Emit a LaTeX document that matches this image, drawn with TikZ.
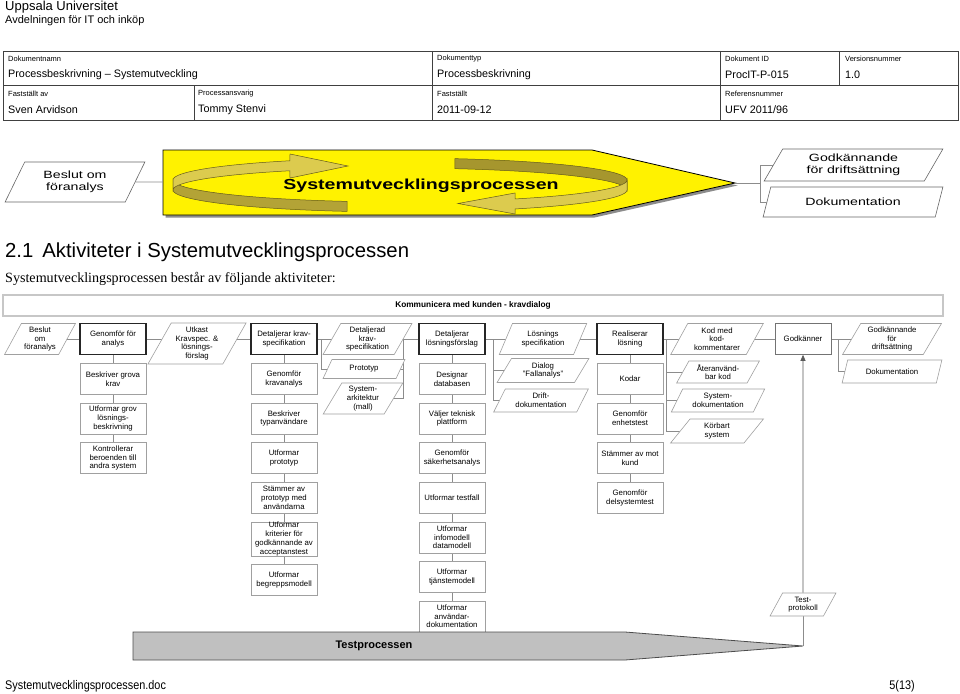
\documentclass[tikz,border=0pt]{standalone}
\usepackage{fontspec}
\setmainfont{Liberation Sans}
\newfontfamily\seriffont{Liberation Serif}
\newfontfamily\widefont[FakeStretch=1.35]{Liberation Sans}
\newfontfamily\narrowfont[FakeStretch=0.87]{Liberation Sans}
\usepackage{tikz}
\usetikzlibrary{backgrounds,calc,positioning,shapes.geometric,arrows.meta,shadows}
\definecolor{ribbonlight}{HTML}{DCCB4E}
\definecolor{ribbondark}{HTML}{A6962E}
\definecolor{linegray}{HTML}{8C8C8C}
\definecolor{boxgray}{HTML}{A0A0A0}
\definecolor{bargray}{HTML}{C0C0C0}

\begin{document}
\begin{tikzpicture}[
  x=1pt, y=-1pt,
  node distance=8pt,
  actstyle/.style={draw=black!85, line width=1.2pt, fill=white, minimum width=66pt, minimum height=31pt, inner sep=0.5pt, align=center, font=\fontsize{7.8}{8.7}\selectfont},
  substyle/.style={draw=boxgray, line width=0.6pt, fill=white, minimum width=66pt, minimum height=31pt, inner sep=0.5pt, align=center, font=\fontsize{7.8}{8.7}\selectfont},
  docstyle/.style={trapezium, trapezium left angle=60, trapezium right angle=120, trapezium stretches=true, draw=boxgray, line width=0.6pt, fill=white, inner sep=0pt, align=center, font=\fontsize{7.8}{8.7}\selectfont},
  bigdocstyle/.style={docstyle, draw=black!60, font=\widefont\fontsize{10.5}{11.5}\selectfont},
  labelstyle/.style={anchor=west, inner sep=0pt, font=\fontsize{7.5}{9}\selectfont},
  valuestyle/.style={anchor=west, inner sep=0pt, font=\fontsize{10.8}{12}\selectfont},
  pathstyle/.style={draw=linegray, line width=0.6pt}
]
  \useasboundingbox (0,0) rectangle (960,693);

  % header
  \node[anchor=west, inner sep=0pt, font=\fontsize{13}{15}\selectfont] (UNI)
    at (5,7) {Uppsala Universitet};
  \node[anchor=west, inner sep=0pt, font=\fontsize{11}{13}\selectfont] (AVD)
    at (5,21) {Avdelningen för IT och inköp};

  \draw[black!75, line width=0.8pt] (3,51) rectangle (958,120);
  \draw[black!75, line width=0.8pt] (3,85) -- (958,85);
  \draw[black!75, line width=0.8pt] (432,51) -- (432,120);
  \draw[black!75, line width=0.8pt] (720,51) -- (720,120);
  \draw[black!75, line width=0.8pt] (839,51) -- (839,85);
  \draw[black!75, line width=0.8pt] (194,85) -- (194,120);

  \node[labelstyle] (L1) at (8,59) {Dokumentnamn};
  \node[valuestyle] (V1) at (8,75) {Processbeskrivning -- Systemutveckling};
  \node[labelstyle] (L2) at (437,59) {Dokumenttyp};
  \node[valuestyle] (V2) at (437,75) {Processbeskrivning};
  \node[labelstyle] (L3) at (725,59) {Dokument ID};
  \node[valuestyle] (V3) at (725,75) {ProcIT-P-015};
  \node[labelstyle] (L4) at (845,59) {Versionsnummer};
  \node[valuestyle] (V4) at (845,75) {1.0};
  \node[labelstyle] (L5) at (8,94) {Fastställt av};
  \node[valuestyle] (V5) at (8,110) {Sven Arvidson};
  \node[labelstyle] (L6) at (198,94) {Processansvarig};
  \node[valuestyle] (V6) at (198,110) {Tommy Stenvi};
  \node[labelstyle] (L7) at (437,94) {Fastställt};
  \node[valuestyle] (V7) at (437,110) {2011-09-12};
  \node[labelstyle] (L8) at (725,94) {Referensnummer};
  \node[valuestyle] (V8) at (725,110) {UFV 2011/96};

  % overview banner
  \node[bigdocstyle, minimum width=140pt, minimum height=40pt] (TBES)
    at (75,182) {Beslut om\\föranalys};
  \coordinate (BIN) at (163,182);
  \coordinate (BTIP) at (735,183);
  \coordinate (BBUS) at (760,183);
  \draw[fill=yellow, draw=black, line width=0.8pt, drop shadow={shadow xshift=2.5pt, shadow yshift=-2.5pt, fill=black!45, opacity=1}]
    (BIN |- 0,150) -- (592,150) -- (BTIP) -- (592,215) -- (BIN |- 0,215) -- cycle;

  \filldraw[draw=ribbondark!60!black, fill=ribbondark, line width=0.5pt]
    plot[domain=76:0, samples=25, variable=\t] ({400+227*cos(\t)},{180-22*sin(\t)})
    -- plot[domain=0:76, samples=25, variable=\t] ({400+227*cos(\t)},{190-22*sin(\t)}) -- cycle;
  \filldraw[draw=ribbondark!60!black, fill=ribbonlight, line width=0.5pt]
    plot[domain=360:300.5, samples=25, variable=\t] ({400+227*cos(\t)},{180-22*sin(\t)})
    -- (515,193) -- (458,203.5) -- (515,214)
    -- plot[domain=300.5:360, samples=25, variable=\t] ({400+227*cos(\t)},{190-22*sin(\t)}) -- cycle;
  \filldraw[draw=ribbondark!60!black, fill=ribbondark!75!ribbonlight, line width=0.5pt]
    plot[domain=180:256.5, samples=25, variable=\t] ({400+227*cos(\t)},{180-22*sin(\t)})
    -- plot[domain=256.5:180, samples=25, variable=\t] ({400+227*cos(\t)},{190-22*sin(\t)}) -- cycle;
  \filldraw[draw=ribbondark!60!black, fill=ribbonlight, line width=0.5pt]
    plot[domain=180:119, samples=25, variable=\t] ({400+227*cos(\t)},{180-22*sin(\t)})
    -- (290,154) -- (348,166) -- (290,178)
    -- plot[domain=119:180, samples=25, variable=\t] ({400+227*cos(\t)},{190-22*sin(\t)}) -- cycle;

  \node[font=\widefont\bfseries\fontsize{14.5}{16}\selectfont] (TPROC)
    at (421,186) {Systemutvecklingsprocessen};

  \node[bigdocstyle, minimum width=179pt, minimum height=32pt] (TGODK)
    at (853.5,165) {Godkännande\\för driftsättning};
  \node[bigdocstyle, minimum width=180pt, minimum height=30pt] (TDOK)
    at (853,202) {Dokumentation};

  \draw[pathstyle] (TBES.east) -- (BIN);
  \draw[pathstyle] (BTIP) -- (BBUS);
  \draw[pathstyle] (TGODK.west) -| (BBUS) |- (TDOK.west);

  % heading and text
  \node[anchor=west, inner sep=0pt, font=\fontsize{20.3}{24}\selectfont] (RUBRIK)
    at (5,252) {2.1\hspace{9pt}Aktiviteter i Systemutvecklingsprocessen};
  \node[anchor=west, inner sep=0pt, font=\seriffont\fontsize{14.1}{16}\selectfont] (INTRO)
    at (5,279) {Systemutvecklingsprocessen består av följande aktiviteter:};

  % activity diagram
  \node[draw=black!22, line width=1.8pt, minimum width=940pt, minimum height=21pt, font=\bfseries\fontsize{8.3}{10}\selectfont] (KUND)
    at (473,305.5) {Kommunicera med kunden - kravdialog};

  \node[docstyle, minimum width=71pt, minimum height=31pt] (BES)
    at (40,339) {Beslut\\om\\föranalys};
  \node[actstyle] (GEN)
    at (113,339) {Genomför för\\analys};
  \node[docstyle, minimum width=99pt, minimum height=41pt] (UTK)
    at (197,343.5) {Utkast\\Kravspec. \&\\lösnings-\\förslag};
  \node[actstyle] (KRAV)
    at (284,339) {Detaljerar krav-\\specifikation};
  \node[docstyle, minimum width=89pt, minimum height=31pt] (DKRAV)
    at (367.5,339) {Detaljerad\\krav-\\specifikation};
  \node[actstyle] (LOS)
    at (452,339) {Detaljerar\\lösningsförslag};
  \node[docstyle, minimum width=88pt, minimum height=31pt] (LSPEC)
    at (543,339) {Lösnings\\specifikation};
  \node[actstyle] (REA)
    at (630,339) {Realiserar\\lösning};
  \node[docstyle, minimum width=93pt, minimum height=31pt] (KOD)
    at (717,339) {Kod med\\kod-\\kommentarer};
  \node[substyle, draw=black!55, minimum width=56pt] (GODK)
    at (803,339) {Godkänner};
  \node[docstyle, minimum width=99pt, minimum height=31pt] (GODKD)
    at (892,339) {Godkännande\\för\\driftsättning};

  \node[substyle, below=of GEN] (GEN1)
    {Beskriver grova\\krav};
  \node[substyle, below=of GEN1] (GEN2)
    {Utformar grov\\lösnings-\\beskrivning};
  \node[substyle, below=of GEN2] (GEN3)
    {Kontrollerar\\beroenden till\\andra system};

  \node[substyle, below=of KRAV] (KRAV1)
    {Genomför\\kravanalys};
  \node[substyle, below=of KRAV1] (KRAV2)
    {Beskriver\\typanvändare};
  \node[substyle, below=of KRAV2] (KRAV3)
    {Utformar\\prototyp};
  \node[substyle, below=of KRAV3] (KRAV4)
    {Stämmer av\\prototyp med\\användarna};
  \node[substyle, below=of KRAV4] (KRAV5)
    {Utformar\\kriterier för\\godkännande av\\acceptanstest};
  \node[substyle, below=of KRAV5] (KRAV6)
    {Utformar\\begreppsmodell};

  \node[substyle, below=of LOS] (LOS1)
    {Designar\\databasen};
  \node[substyle, below=of LOS1] (LOS2)
    {Väljer teknisk\\plattform};
  \node[substyle, below=of LOS2] (LOS3)
    {Genomför\\säkerhetsanalys};
  \node[substyle, below=of LOS3] (LOS4)
    {Utformar testfall};
  \node[substyle, below=of LOS4] (LOS5)
    {Utformar\\infomodell\\datamodell};
  \node[substyle, below=of LOS5] (LOS6)
    {Utformar\\tjänstemodell};
  \node[substyle, below=of LOS6] (LOS7)
    {Utformar\\användar-\\dokumentation};

  \node[substyle, below=of REA] (REA1)
    {Kodar};
  \node[substyle, below=of REA1] (REA2)
    {Genomför\\enhetstest};
  \node[substyle, below=of REA2] (REA3)
    {Stämmer av mot\\kund};
  \node[substyle, below=of REA3] (REA4)
    {Genomför\\delsystemtest};

  \node[docstyle, minimum width=82pt, minimum height=19pt] (PROT)
    at (364,369) {Prototyp};
  \node[docstyle, minimum width=80pt, minimum height=31pt] (ARK)
    at (363,398.5) {System-\\arkitektur\\(mall)};
  \node[docstyle, minimum width=92pt, minimum height=24pt] (DIAL)
    at (543,370.5) {Dialog\\"Fallanalys"};
  \node[docstyle, minimum width=95pt, minimum height=23pt] (DRIFT)
    at (541,400.5) {Drift-\\dokumentation};
  \node[docstyle, minimum width=83pt, minimum height=22pt] (ATER)
    at (718,372) {Återanvänd-\\bar kod};
  \node[docstyle, minimum width=94pt, minimum height=23pt] (SYSDOK)
    at (718,400.5) {System-\\dokumentation};
  \node[docstyle, minimum width=93pt, minimum height=24pt] (KOR)
    at (717,431) {Körbart\\system};
  \node[docstyle, minimum width=100pt, minimum height=23pt] (DOK)
    at (892,371.5) {Dokumentation};
  \node[docstyle, minimum width=66pt, minimum height=23pt] (TPROT)
    at (803,604.5) {Test-\\protokoll};

  \coordinate (PTIP) at (803,646);
  \draw[fill=bargray, draw=black!70, line width=0.8pt]
    (133,632) -- (625,632) -- (PTIP) -- (625,660) -- (133,660) -- cycle;
  \node[font=\bfseries\fontsize{11}{12}\selectfont] (TEST)
    at (374,646) {Testprocessen};

  \begin{scope}[on background layer]
    \draw[pathstyle] (BES.center) -- (GEN.west);
    \draw[pathstyle] (GEN.east) -- (GEN.east -| UTK.center);
    \draw[pathstyle] (KRAV.west -| UTK.center) -- (KRAV.west);
    \draw[pathstyle] (KRAV.east) -- (DKRAV.center);
    \draw[pathstyle] (KRAV.east) ++(4pt,0) |- (PROT.center);
    \draw[pathstyle] (DKRAV.center) -- (LOS.west);
    \draw[pathstyle] (PROT.center) -| ([xshift=-15pt]LOS.west);
    \draw[pathstyle] (ARK.center) -| ([xshift=-15pt]LOS.west);
    \draw[pathstyle] (LOS.east) -- (LSPEC.center);
    \draw[pathstyle] (LOS.east) ++(8pt,0) |- (DIAL.center);
    \draw[pathstyle] (LOS.east) ++(8pt,0) |- (DRIFT.center);
    \draw[pathstyle] (LSPEC.center) -- (REA.west);
    \draw[pathstyle] (REA.east) -- (KOD.center);
    \foreach \d in {ATER, SYSDOK, KOR}
      \draw[pathstyle] (REA.east) ++(3pt,0) |- (\d.center);
    \draw[pathstyle] (KOD.center) -- (GODK.west);
    \draw[pathstyle] (GODK.east) -- (GODKD.center);
    \draw[pathstyle] (GODK.east) ++(7pt,0) |- (DOK.center);
    \foreach \a/\b in {GEN/GEN1, GEN1/GEN2, GEN2/GEN3, KRAV/KRAV1, KRAV1/KRAV2, KRAV2/KRAV3, KRAV3/KRAV4, KRAV4/KRAV5, KRAV5/KRAV6, LOS/LOS1, LOS1/LOS2, LOS2/LOS3, LOS3/LOS4, LOS4/LOS5, LOS5/LOS6, LOS6/LOS7, REA/REA1, REA1/REA2, REA2/REA3, REA3/REA4}
      \draw[pathstyle] (\a.center) -- (\b.center);
    \draw[pathstyle] (TPROT.center) -- (PTIP);
  \end{scope}
  \draw[pathstyle, draw=black!65, -{Triangle[length=6pt, width=5pt]}] (TPROT.north) -- (GODK.south);

  % footer
  \node[anchor=west, inner sep=0pt, font=\narrowfont\fontsize{12.5}{14}\selectfont] (FIL)
    at (5,686) {Systemutvecklingsprocessen.doc};
  \node[anchor=east, inner sep=0pt, font=\narrowfont\fontsize{12.5}{14}\selectfont] (SIDA)
    at (915,686) {5(13)};
\end{tikzpicture}
\end{document}
